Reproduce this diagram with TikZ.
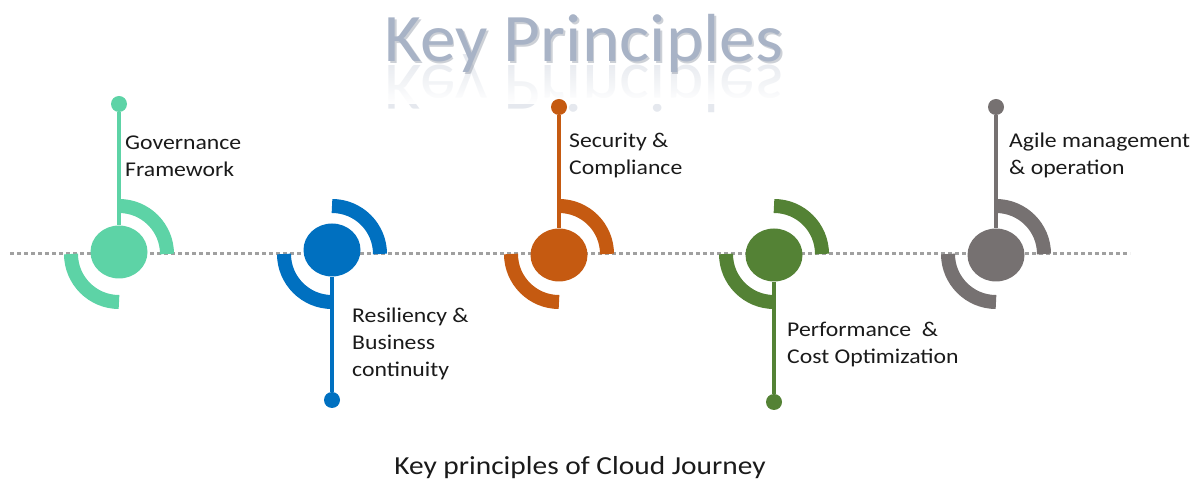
\documentclass[tikz,border=0pt]{standalone}
\usepackage{fontspec}
\setmainfont{Carlito}
\usepackage{graphicx}
\usetikzlibrary{shapes.geometric,fadings}
\definecolor{cA}{HTML}{5DD3A6}
\definecolor{cB}{HTML}{0070C0}
\definecolor{cC}{HTML}{C55A11}
\definecolor{cD}{HTML}{548235}
\definecolor{cE}{HTML}{767171}
\definecolor{txt}{HTML}{1A1A1A}
\definecolor{lineGray}{HTML}{A0A0A0}
\definecolor{titleBlue}{HTML}{A8B3C6}
\definecolor{titleShade}{HTML}{6E788A}
\tikzfading[name=reflfade, top color=transparent!100, bottom color=transparent!0]
\newcommand{\lbl}[1]{\scalebox{1.13}[1]{\vtop{\baselineskip=27pt\lineskiplimit=-100pt\relax #1}}}
\begin{document}
\begin{tikzpicture}[x=1pt,y=1pt,
  hub/.style={ellipse, fill=#1, draw=none, inner sep=0pt, minimum width=57pt, minimum height=53pt},
  tip/.style={circle, fill=#1, draw=none, inner sep=0pt, minimum size=16pt},
  stem/.style={draw=#1, line width=4pt},
  ring/.style={draw=#1, line width=14pt},
  dotline/.style={draw=lineGray, line width=3pt, dash pattern=on 4pt off 3pt},
  lbltext/.style={anchor=base west, inner sep=0pt, text=txt, font=\fontsize{21}{27}\selectfont},
  titletext/.style={anchor=base, inner sep=0pt, font=\fontsize{68}{80}\selectfont}
]
\useasboundingbox (0,0) rectangle (1203,482);

% title with reflection
\node[titletext, text=titleBlue, opacity=0.3] (titlerefl) at (584,416) {\scalebox{1.05}[-1]{Key Principles}};
\fill[white, path fading=reflfade] (360,424) rectangle (810,378);
\node[titletext, text=titleShade, opacity=0.35] (titleshadow) at (585.5,418.5) {\scalebox{1.05}[1]{Key Principles}};
\node[titletext, text=titleBlue] (title) at (584,420) {\scalebox{1.05}[1]{Key Principles}};

% dotted axis
\coordinate (ls) at (10,228);
\coordinate (le) at (1130,228);
\draw[dotline] (ls) -- (le);

% arc centres
\coordinate (o1) at (119,228);
\coordinate (o2) at (332,228);
\coordinate (o3) at (559,228);
\coordinate (o4) at (774,228);
\coordinate (o5) at (996,228);

% arcs
\foreach \o/\c in {o1/cA,o2/cB,o3/cC,o4/cD,o5/cE}{
  \draw[ring=\c] ([xshift=48pt]\o) arc[start angle=0, end angle=90, radius=48];
  \draw[ring=\c] ([xshift=-48pt]\o) arc[start angle=180, end angle=270, radius=48];
}

% hubs and tips
\node[hub=cA] (c1) at (119,230) {};
\node[tip=cA] (d1) at (119,378) {};
\draw[stem=cA] (d1) -- (c1);

\node[hub=cB] (c2) at (332,232) {};
\node[tip=cB] (d2) at (332,82) {};
\draw[stem=cB] (c2) -- (d2);

\node[hub=cC] (c3) at (559,227) {};
\node[tip=cC] (d3) at (559,375) {};
\draw[stem=cC] (d3) -- (c3);

\node[hub=cD] (c4) at (774,227) {};
\node[tip=cD] (d4) at (774,80) {};
\draw[stem=cD] (c4) -- (d4);

\node[hub=cE] (c5) at (996,227) {};
\node[tip=cE] (d5) at (996,375) {};
\draw[stem=cE] (d5) -- (c5);

% labels
\node[lbltext] (t1) at (125,332) {\lbl{\hbox{Governance}\hbox{Framework}}};
\node[lbltext] (t2) at (352,159) {\lbl{\hbox{Resiliency \&}\hbox{Business}\hbox{continuity}}};
\node[lbltext] (t3) at (569,334) {\lbl{\hbox{Security \&}\hbox{Compliance}}};
\node[lbltext] (t4) at (787,145) {\lbl{\hbox{Performance\ \ \&}\hbox{Cost Optimization}}};
\node[lbltext] (t5) at (1009,334) {\lbl{\hbox{Agile management}\hbox{\& operation}}};

% caption
\node[anchor=base, inner sep=0pt, text=txt, font=\fontsize{26}{30}\selectfont] (cap) at (580,7) {\scalebox{1.13}[1]{Key principles of Cloud Journey}};
\end{tikzpicture}
\end{document}
